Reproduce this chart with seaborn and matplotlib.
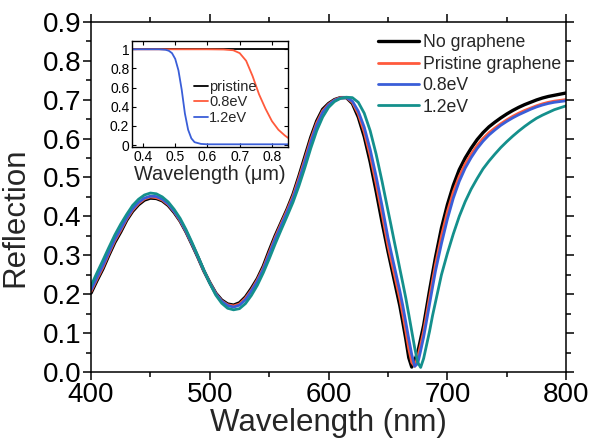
import numpy as np
import pandas as pd
import matplotlib
matplotlib.use("Agg")
import matplotlib.pyplot as plt
from matplotlib.ticker import MultipleLocator
import seaborn as sns

# ---------------- data ----------------
wavelength = [400, 405, 410, 415, 420, 425, 430, 435, 440, 445, 450, 455, 460, 465, 470, 475,
              480, 485, 490, 495, 500, 505, 510, 515, 520, 525, 530, 535, 540, 545, 550, 555,
              560, 565, 570, 575, 580, 585, 590, 595, 600, 605, 610, 615, 620, 625, 630, 635,
              640, 645, 650, 652.5, 655, 657.5, 660, 662.5, 665, 667.5, 670, 672.5, 675, 677.5,
              680, 682.5, 685, 687.5, 690, 695, 700, 705, 710, 715, 720, 725, 730, 735, 740,
              745, 750, 755, 760, 765, 770, 775, 780, 785, 790, 795, 800]

no_graphene = [0.203, 0.235, 0.265, 0.300, 0.333, 0.360, 0.390, 0.413, 0.430, 0.442, 0.447, 0.446,
               0.440, 0.428, 0.410, 0.388, 0.360, 0.328, 0.295, 0.260, 0.230, 0.203, 0.185, 0.175,
               0.172, 0.178, 0.193, 0.215, 0.240, 0.272, 0.312, 0.350, 0.384, 0.418, 0.456, 0.503,
               0.553, 0.603, 0.645, 0.675, 0.690, 0.700, 0.705, 0.705, 0.690, 0.655, 0.605, 0.540,
               0.465, 0.385, 0.310, 0.275, 0.240, 0.205, 0.170, 0.128, 0.085, 0.037, 0.013, 0.030,
               0.050, 0.085, 0.120, 0.165, 0.210, 0.253, 0.295, 0.370, 0.430, 0.480, 0.520, 0.550,
               0.575, 0.597, 0.615, 0.630, 0.642, 0.653, 0.663, 0.672, 0.680, 0.687, 0.693, 0.699,
               0.704, 0.708, 0.711, 0.714, 0.717]

pristine = [0.207, 0.239, 0.269, 0.304, 0.337, 0.364, 0.393, 0.416, 0.433, 0.445, 0.450, 0.448,
            0.442, 0.430, 0.412, 0.389, 0.361, 0.329, 0.296, 0.260, 0.230, 0.202, 0.183, 0.173,
            0.170, 0.175, 0.190, 0.211, 0.237, 0.268, 0.307, 0.346, 0.381, 0.415, 0.452, 0.498,
            0.547, 0.597, 0.640, 0.671, 0.688, 0.699, 0.705, 0.705, 0.693, 0.663, 0.617, 0.556,
            0.484, 0.406, 0.325, 0.290, 0.256, 0.222, 0.188, 0.148, 0.105, 0.060, 0.025, 0.015,
            0.038, 0.070, 0.105, 0.148, 0.192, 0.235, 0.277, 0.350, 0.412, 0.463, 0.503, 0.535,
            0.560, 0.582, 0.600, 0.615, 0.627, 0.638, 0.648, 0.657, 0.665, 0.672, 0.678, 0.684,
            0.689, 0.693, 0.696, 0.698, 0.700]

ev08 = [0.211, 0.243, 0.274, 0.308, 0.341, 0.368, 0.396, 0.419, 0.436, 0.447, 0.452, 0.451,
        0.444, 0.432, 0.413, 0.391, 0.362, 0.330, 0.296, 0.261, 0.229, 0.201, 0.182, 0.171,
        0.167, 0.172, 0.186, 0.208, 0.233, 0.264, 0.302, 0.341, 0.376, 0.410, 0.446, 0.491,
        0.540, 0.590, 0.634, 0.667, 0.686, 0.698, 0.704, 0.705, 0.696, 0.670, 0.629, 0.572,
        0.503, 0.427, 0.345, 0.310, 0.276, 0.242, 0.208, 0.170, 0.128, 0.085, 0.045, 0.015,
        0.022, 0.055, 0.090, 0.132, 0.175, 0.218, 0.260, 0.330, 0.393, 0.447, 0.490, 0.524,
        0.551, 0.574, 0.593, 0.609, 0.622, 0.634, 0.644, 0.653, 0.661, 0.668, 0.675, 0.681,
        0.686, 0.690, 0.693, 0.695, 0.697]

ev12 = [0.222, 0.255, 0.287, 0.320, 0.352, 0.380, 0.405, 0.428, 0.444, 0.455, 0.460, 0.458,
        0.450, 0.437, 0.418, 0.395, 0.366, 0.333, 0.298, 0.262, 0.228, 0.198, 0.177, 0.164,
        0.160, 0.163, 0.176, 0.197, 0.223, 0.255, 0.291, 0.329, 0.365, 0.400, 0.436, 0.478,
        0.525, 0.575, 0.620, 0.655, 0.680, 0.695, 0.703, 0.706, 0.705, 0.693, 0.665, 0.620,
        0.560, 0.490, 0.415, 0.378, 0.340, 0.303, 0.265, 0.228, 0.190, 0.148, 0.105, 0.062,
        0.025, 0.012, 0.035, 0.070, 0.105, 0.145, 0.180, 0.250, 0.305, 0.355, 0.400, 0.438,
        0.470, 0.497, 0.522, 0.542, 0.560, 0.577, 0.592, 0.606, 0.619, 0.631, 0.642, 0.652,
        0.660, 0.667, 0.674, 0.679, 0.684]

series_names = ["No graphene", "Pristine graphene", "0.8eV", "1.2eV"]
series_colors = ["#000000", "#ff5a3c", "#3a5ed8", "#14908c"]
series_widths = [2.4, 2.0, 2.0, 2.0]

x_ticks = [400, 500, 600, 700, 800]
y_ticks = [0.0, 0.1, 0.2, 0.3, 0.4, 0.5, 0.6, 0.7, 0.8, 0.9]

# inset data (wavelength in µm)
inset_wl = [0.35, 0.40, 0.45, 0.47, 0.48, 0.49, 0.50, 0.51, 0.52, 0.53, 0.54, 0.55, 0.56,
            0.58, 0.60, 0.65, 0.68, 0.70, 0.72, 0.74, 0.76, 0.78, 0.80, 0.82, 0.84, 0.85]
inset_pristine = [1.0] * 26
inset_08 = [1.0, 1.0, 1.0, 1.0, 1.0, 1.0, 1.0, 1.0, 1.0, 1.0, 1.0, 1.0, 1.0,
            1.0, 1.0, 0.998, 0.99, 0.96, 0.88, 0.72, 0.53, 0.38, 0.25, 0.16, 0.10, 0.075]
inset_12 = [1.0, 1.0, 1.0, 0.995, 0.985, 0.96, 0.90, 0.78, 0.58, 0.33, 0.16, 0.07, 0.03,
            0.012, 0.008, 0.008, 0.008, 0.008, 0.008, 0.008, 0.008, 0.008, 0.008, 0.008, 0.008, 0.008]
inset_names = ["pristine", "0.8eV", "1.2eV"]
inset_colors = ["#000000", "#ff5a3c", "#3a5ed8"]
inset_xticks = [0.4, 0.5, 0.6, 0.7, 0.8]
inset_yticks = [0, 0.2, 0.4, 0.6, 0.8, 1]
inset_yticklabels = ["0", "0.2", "0.4", "0.6", "0.8", "1"]

# ---------------- style ----------------
sns.set_style("ticks")
plt.rcParams['font.family'] = ['Liberation Sans', 'DejaVu Sans']
plt.rcParams['axes.linewidth'] = 1.1

fig = plt.figure(figsize=(5.91, 4.43), dpi=100)
ax = fig.add_axes([0.154, 0.160, 0.804, 0.791])

main_df = pd.DataFrame({
    "Wavelength": wavelength * 4,
    "Reflection": no_graphene + pristine + ev08 + ev12,
    "Series": sum([[n] * len(wavelength) for n in series_names], []),
})
sns.lineplot(data=main_df, x="Wavelength", y="Reflection", hue="Series",
             hue_order=series_names, palette=series_colors, linewidth=2.0,
             sort=False, estimator=None, ax=ax)
for line, w in zip(ax.get_lines(), series_widths):
    line.set_linewidth(w)

ax.set_xlim(400, 800)
ax.set_ylim(0, 0.9)
ax.set_xticks(x_ticks)
ax.set_yticks(y_ticks)
ax.set_yticklabels([f"{v:.1f}" for v in y_ticks])
ax.xaxis.set_minor_locator(MultipleLocator(50))
ax.yaxis.set_minor_locator(MultipleLocator(0.05))
ax.tick_params(which='both', direction='out', top=True, right=True, width=1.1, labelsize=20,
               pad=1, colors='black')
ax.tick_params(which='major', length=6)
ax.tick_params(which='minor', length=3.5)
ax.set_xlabel("Wavelength (nm)", fontsize=22.5, labelpad=0)
ax.set_ylabel("Reflection", fontsize=22.5)
ax.yaxis.set_label_coords(-0.128, 0.442)
for s in ax.spines.values():
    s.set_visible(True)
    s.set_color('black')

leg = ax.legend(loc='upper left', bbox_to_anchor=(0.605, 0.964), frameon=False, fontsize=12.7,
                handlelength=2.3, handletextpad=0.2, labelspacing=0.25, borderpad=0,
                borderaxespad=0)
for line, w in zip(leg.get_lines(), series_widths):
    line.set_linewidth(w)

# ---------------- inset ----------------
ins = fig.add_axes([0.2234, 0.6682, 0.264, 0.2393])
inset_df = pd.DataFrame({
    "wl": inset_wl * 3,
    "R": inset_pristine + inset_08 + inset_12,
    "Series": sum([[n] * len(inset_wl) for n in inset_names], []),
})
sns.lineplot(data=inset_df, x="wl", y="R", hue="Series", hue_order=inset_names,
             palette=inset_colors, linewidth=1.3, sort=False, estimator=None, ax=ins)
ins.set_xlim(0.366, 0.85)
ins.set_ylim(-0.02, 1.087)
ins.set_xticks(inset_xticks)
ins.set_xticklabels([f"{v:.1f}" for v in inset_xticks])
ins.set_yticks(inset_yticks)
ins.set_yticklabels(inset_yticklabels)
ins.tick_params(which='both', direction='in', top=True, right=True, length=3, width=0.8,
                labelsize=10, pad=2, colors='black')
ins.set_xlabel("Wavelength (μm)", fontsize=14.3, labelpad=1)
ins.set_ylabel("")
for s in ins.spines.values():
    s.set_visible(True)
    s.set_linewidth(1.0)
    s.set_color('black')
ileg = ins.legend(loc='upper left', bbox_to_anchor=(0.40, 0.633), frameon=False, fontsize=10.5,
                  handlelength=0.9, handletextpad=0.1, labelspacing=0.1, borderpad=0,
                  borderaxespad=0)
for line in ileg.get_lines():
    line.set_linewidth(1.3)

fig.savefig("out.png", dpi=100)
